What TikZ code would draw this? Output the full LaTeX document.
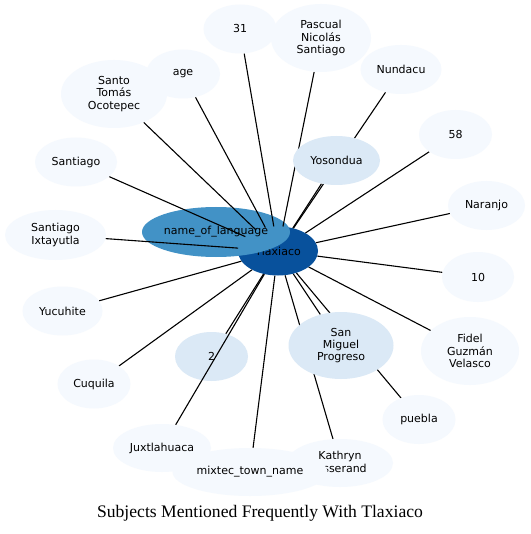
\documentclass[tikz,border=0pt]{standalone}
\usepackage{fontspec}
\setmainfont{DejaVu Sans}
\newfontfamily\titlefont{Liberation Serif}
\usetikzlibrary{shapes.geometric}
\definecolor{hubc}{HTML}{08519C}
\definecolor{midc}{HTML}{4292C6}
\definecolor{ltc}{HTML}{DBE9F6}
\definecolor{leafc}{HTML}{F5F9FE}
\pgfdeclarelayer{under}
\pgfdeclarelayer{edges}
\pgfsetlayers{under,edges,main}
\begin{document}
\begin{tikzpicture}[x=1pt,y=-1pt,
  nd/.style={ellipse, inner sep=0pt, align=center, text=black, font=\fontsize{11}{12.2}\selectfont},
  sz/.style 2 args={minimum width=#1pt, minimum height=#2pt},
  leaf/.style={nd, fill=leafc},
  lite/.style={nd, fill=ltc},
  edge/.style={line width=1.1pt, black}]
\begin{pgfonlayer}{under}
\fill[white] (0,0) rectangle (530,534);
\node[nd, fill=hubc, sz={80}{49}] (tl) at (278,251) {Tlaxiaco};
\node[nd, fill=midc, sz={148}{50}] (lang) at (216,232) {name\_of\_language};
\node[lite, sz={73}{49}] (two) at (211.5,356.5) {2};
\end{pgfonlayer}
\useasboundingbox (0,0) rectangle (530,534);
\node[leaf, sz={73}{49}] (n31) at (240,29) {31};
\node[leaf, sz={100}{68}] (pas) at (321,38) {Pascual\\Nicolás\\Santiago};
\node[leaf, sz={74}{49}] (age) at (183,74) {age};
\node[leaf, sz={106}{68}] (sto) at (114,94) {Santo\\Tomás\\Ocotepec};
\node[leaf, sz={81}{49}] (nun) at (401,69.5) {Nundacu};
\node[lite, sz={87}{49}] (yos) at (336.5,160.5) {Yosondua};
\node[leaf, sz={73}{49}] (n58) at (455.5,134.5) {58};
\node[leaf, sz={82}{49}] (san) at (76,162) {Santiago};
\node[leaf, sz={77}{49}] (nar) at (486.5,205.5) {Naranjo};
\node[leaf, sz={101}{50}] (ixt) at (55.5,235) {Santiago\\Ixtayutla};
\node[leaf, sz={72}{50}] (n10) at (478,277) {10};
\node[leaf, sz={80}{49}] (yuc) at (62.5,311) {Yucuhite};
\node[lite, sz={105}{67}] (smp) at (341,345.5) {San\\Miguel\\Progreso};
\node[leaf, sz={98}{68}] (fid) at (470,351) {Fidel\\Guzmán\\Velasco};
\node[leaf, sz={73}{49}] (cuq) at (94,384) {Cuquila};
\node[leaf, sz={73}{49}] (pue) at (419,419.5) {puebla};
\node[leaf, sz={98}{48}] (jux) at (162,448) {Juxtlahuaca};
\node[leaf, sz={106}{48}] (kat) at (340,463) {Kathryn\\Josserand};
\node[leaf, sz={155}{48}] (mix) at (250,472) {mixtec\_town\_name};
\begin{pgfonlayer}{edges}
\foreach \n in {n31,pas,age,sto,nun,yos,n58,san,nar,ixt,n10,yuc,smp,fid,cuq,pue,jux,mix,kat,two}
  \draw[edge] (tl) -- (\n);
\end{pgfonlayer}
\node[anchor=base, inner sep=0pt, font=\titlefont\fontsize{17.6}{20}\selectfont] (title) at (260,517) {Subjects Mentioned Frequently With Tlaxiaco};
\end{tikzpicture}
\end{document}
